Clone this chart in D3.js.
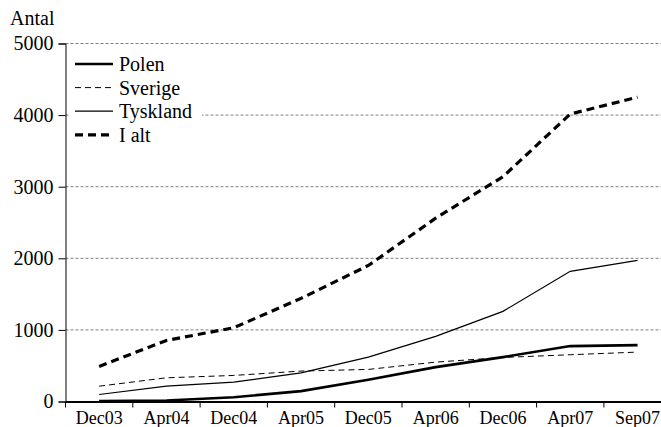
<!DOCTYPE html>
<html>
<head>
<meta charset="utf-8">
<script src="https://cdn.jsdelivr.net/npm/d3@7"></script>
<style>
  body { margin: 0; background: #fff; overflow: hidden; }
  svg { display: block; }
  text { font-family: "Liberation Serif", "Times New Roman", serif; fill: #000; }
</style>
</head>
<body>
<svg id="chart"></svg>
<script>
// categories and values
var months = ["Dec03", "Apr04", "Dec04", "Apr05", "Dec05", "Apr06", "Dec06", "Apr07", "Sep07"];
var polen = [5, 15, 60, 145, 303, 480, 620, 774, 788];
var sverige = [214, 331, 364, 425, 448, 550, 615, 653, 690];
var tyskland = [98, 214, 270, 400, 620, 909, 1259, 1818, 1972];
var iAlt = [490, 853, 1030, 1440, 1900, 2560, 3140, 4015, 4250];
var yTicks = [0, 1000, 2000, 3000, 4000, 5000];

var series = [
  { name: "Polen", values: polen, width: 2.6, dash: null },
  { name: "Sverige", values: sverige, width: 1, dash: "6,4" },
  { name: "Tyskland", values: tyskland, width: 1.2, dash: null },
  { name: "I alt", values: iAlt, width: 3.2, dash: "8,5" }
];

var w = 661, h = 427;
var mLeft = 65.5, mTop = 43.5, mBottom = 401.5;

var svg = d3.select("#chart").attr("width", w).attr("height", h);

var x = d3.scaleBand().domain(months).range([mLeft, mLeft + 9 * 67.3]);
var y = d3.scaleLinear().domain([0, 5000]).range([mBottom, mTop]);

// grid lines
svg.append("g").selectAll("line")
  .data(yTicks.slice(1))
  .enter().append("line")
  .attr("x1", mLeft).attr("x2", w)
  .attr("y1", function(d) { return y(d); })
  .attr("y2", function(d) { return y(d); })
  .attr("stroke", "#7f7f7f")
  .attr("stroke-width", 1)
  .attr("stroke-dasharray", "3,2");

// y axis
var yAxis = svg.append("g")
  .attr("transform", "translate(" + mLeft + ",0)")
  .call(d3.axisLeft(y).tickValues(yTicks).tickFormat(d3.format("d")).tickSize(7).tickPadding(5));
yAxis.select(".domain").attr("stroke", "#000");
yAxis.selectAll("text").style("font-size", "20px").style("font-family", "Liberation Serif");

// x axis
var xAxis = svg.append("g")
  .attr("transform", "translate(0," + mBottom + ")")
  .call(d3.axisBottom(x).tickSize(0).tickPadding(10));
xAxis.select(".domain").attr("stroke", "#000").attr("stroke-width", 2);
xAxis.selectAll("text").style("font-size", "18px").style("font-family", "Liberation Serif");

// tick marks between categories
svg.append("g").selectAll("line")
  .data(months)
  .enter().append("line")
  .attr("x1", function(d) { return x(d); })
  .attr("x2", function(d) { return x(d); })
  .attr("y1", mBottom).attr("y2", mBottom + 6)
  .attr("stroke", "#000");

svg.append("text")
  .attr("x", 10).attr("y", 25)
  .style("font-size", "20px")
  .text("Antal");

// lines
var line = d3.line()
  .x(function(d, i) { return x(months[i]) + x.bandwidth() / 2; })
  .y(function(d) { return y(d); });

svg.append("g").selectAll("path")
  .data(series)
  .enter().append("path")
  .attr("d", function(d) { return line(d.values); })
  .attr("fill", "none")
  .attr("stroke", "#000")
  .attr("stroke-width", function(d) { return d.width; })
  .attr("stroke-dasharray", function(d) { return d.dash; });

// legend
var legend = svg.append("g");
legend.append("rect")
  .attr("x", 70).attr("y", 52).attr("width", 132).attr("height", 95)
  .attr("fill", "#fff");

var rows = legend.selectAll("g.row")
  .data(series)
  .enter().append("g")
  .attr("class", "row")
  .attr("transform", function(d, i) { return "translate(0," + (64 + i * 23.6) + ")"; });

rows.append("line")
  .attr("x1", 75).attr("x2", 113)
  .attr("y1", 0).attr("y2", 0)
  .attr("stroke", "#000")
  .attr("stroke-width", function(d) { return d.width; })
  .attr("stroke-dasharray", function(d) { return d.dash; });

rows.append("text")
  .attr("x", 119).attr("y", 0)
  .attr("dy", "0.35em")
  .style("font-size", "20px")
  .text(function(d) { return d.name; });
</script>
</body>
</html>
